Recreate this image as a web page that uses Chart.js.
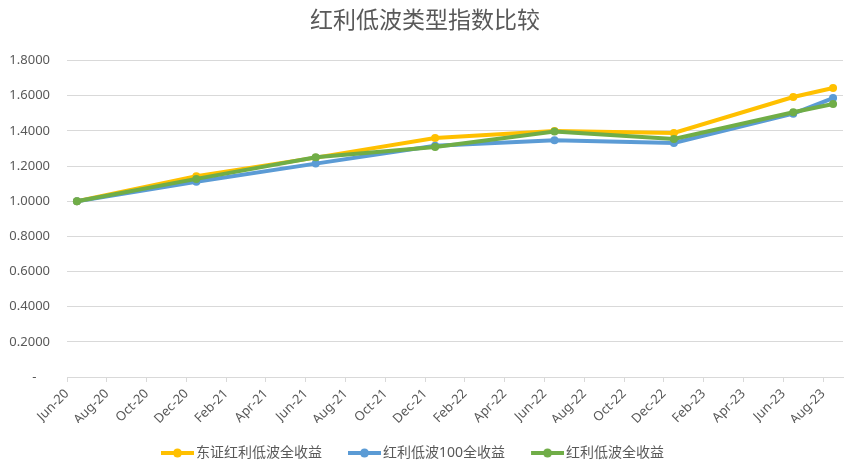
<!DOCTYPE html>
<html>
<head>
<meta charset="utf-8">
<script src="https://cdn.jsdelivr.net/npm/chart.js@4.4.1/dist/chart.umd.min.js"></script>
<style>
  html, body { margin: 0; padding: 0; background: #ffffff; }
  #wrap { width: 857px; height: 475px; }
</style>
</head>
<body>
<div id="wrap"><canvas id="chart" width="857" height="475"></canvas></div>
<script>
const chartTitle = "红利低波类型指数比较";
const seriesNames = ["东证红利低波全收益", "红利低波100全收益", "红利低波全收益"];
const seriesColors = ["#FFC000", "#5B9BD5", "#70AD47"];

// month of each observation
const pointMonths = ["Jun-20", "Dec-20", "Jun-21", "Dec-21", "Jun-22", "Dec-22", "Jun-23", "Aug-23"];
const dzValues    = [1.0000, 1.1420, 1.2480, 1.3600, 1.3990, 1.3880, 1.5930, 1.6440];
const hl100Values = [1.0000, 1.1110, 1.2140, 1.3160, 1.3470, 1.3310, 1.4980, 1.5870];
const hlValues    = [1.0000, 1.1270, 1.2500, 1.3090, 1.3960, 1.3540, 1.5060, 1.5530];

const tickMonths = ["Jun-20", "Aug-20", "Oct-20", "Dec-20", "Feb-21", "Apr-21", "Jun-21", "Aug-21",
  "Oct-21", "Dec-21", "Feb-22", "Apr-22", "Jun-22", "Aug-22", "Oct-22", "Dec-22",
  "Feb-23", "Apr-23", "Jun-23", "Aug-23"];
const yTicks = [0, 0.2, 0.4, 0.6, 0.8, 1.0, 1.2, 1.4, 1.6, 1.8];

const monthNames = ["Jan", "Feb", "Mar", "Apr", "May", "Jun", "Jul", "Aug", "Sep", "Oct", "Nov", "Dec"];
const firstMonth = tickMonths[0];
const lastMonth = tickMonths[tickMonths.length - 1];

// months counted from the first axis month
function monthIndex(label) {
  const parts = label.split("-");
  const m = monthNames.indexOf(parts[0]);
  const y = parseInt(parts[1], 10);
  return y * 12 + m;
}
function offsetOf(label) {
  return monthIndex(label) - monthIndex(firstMonth);
}
function labelOf(offset) {
  const total = monthIndex(firstMonth) + offset;
  const y = Math.floor(total / 12);
  return monthNames[total % 12] + "-" + String(y).padStart(2, "0");
}

const allValues = [dzValues, hl100Values, hlValues];

const textColor = "#595959";
const gridColor = "#d9d9d9";
const fontFamily = '"Noto Sans", "Noto Sans CJK SC", sans-serif';
const legendShift = -14;

// legend swatch: line with a dot, pushed to the right part of the canvas
function makeMarker(color) {
  const c = document.createElement("canvas");
  c.width = 41;
  c.height = 12;
  const ctx = c.getContext("2d");
  ctx.strokeStyle = color;
  ctx.lineWidth = 4;
  ctx.beginPath();
  ctx.moveTo(8, 6);
  ctx.lineTo(41, 6);
  ctx.stroke();
  ctx.fillStyle = color;
  ctx.beginPath();
  ctx.arc(24.5, 6, 4.5, 0, Math.PI * 2);
  ctx.fill();
  return c;
}

const datasets = seriesNames.map((name, i) => ({
  label: name,
  // points sit in the middle of their month
  data: pointMonths.map((m, j) => ({ x: offsetOf(m) + 0.5, y: allValues[i][j] })),
  borderColor: seriesColors[i],
  backgroundColor: seriesColors[i],
  borderWidth: 4,
  pointRadius: 4,
  pointBorderWidth: 0,
  pointHoverRadius: 4,
  tension: 0,
  order: seriesNames.length - i
}));

// nudge the legend a little left, as in the original
const legendNudge = {
  id: "legendNudge",
  afterLayout: function (chart) {
    if (chart.legend) {
      chart.legend.left += legendShift;
      chart.legend.right += legendShift;
    }
  }
};

new Chart(document.getElementById("chart"), {
  type: "line",
  data: { datasets: datasets },
  plugins: [legendNudge],
  options: {
    responsive: false,
    animation: false,
    layout: { padding: { left: 7, right: 14, top: 0, bottom: 5 } },
    plugins: {
      title: {
        display: true,
        text: chartTitle,
        color: textColor,
        font: { family: fontFamily, size: 23, weight: "normal" },
        padding: { top: 8, bottom: 25 }
      },
      legend: {
        position: "bottom",
        labels: {
          usePointStyle: true,
          pointStyleWidth: 31,
          padding: 23,
          color: textColor,
          font: { family: fontFamily, size: 14 },
          generateLabels: function (chart) {
            return chart.data.datasets.map((ds, i) => ({
              text: ds.label,
              fillStyle: ds.borderColor,
              strokeStyle: ds.borderColor,
              fontColor: textColor,
              lineWidth: 0,
              pointStyle: makeMarker(ds.borderColor),
              hidden: false,
              datasetIndex: i
            }));
          }
        }
      },
      tooltip: { enabled: false }
    },
    scales: {
      x: {
        type: "linear",
        min: 0,
        max: offsetOf(lastMonth) + 1,
        afterBuildTicks: function (scale) {
          scale.ticks = tickMonths.map(m => ({ value: offsetOf(m) }));
        },
        afterFit: function (scale) {
          scale.height = 46;
        },
        grid: { drawOnChartArea: false, drawTicks: true, tickLength: 5, color: gridColor },
        border: { color: gridColor },
        ticks: {
          autoSkip: false,
          maxRotation: 45,
          minRotation: 45,
          padding: 4,
          color: textColor,
          font: { family: fontFamily, size: 13 },
          callback: function (v) { return labelOf(Math.round(v)); }
        }
      },
      y: {
        min: 0,
        max: 1.8,
        afterBuildTicks: function (scale) {
          scale.ticks = yTicks.map(v => ({ value: v }));
        },
        afterFit: function (scale) {
          scale.width = 60;
        },
        grid: { color: gridColor, drawTicks: false },
        border: { display: false },
        ticks: {
          padding: 17,
          color: textColor,
          font: { family: fontFamily, size: 13 },
          callback: function (v) { return v === 0 ? "-    " : v.toFixed(4); }
        }
      }
    }
  }
});
</script>
</body>
</html>
